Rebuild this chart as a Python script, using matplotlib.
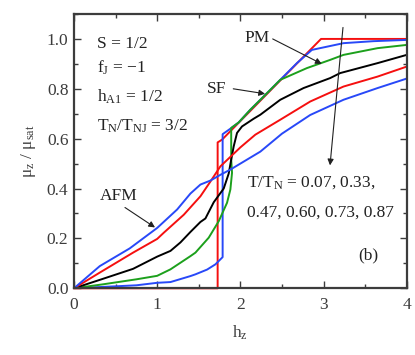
import matplotlib
matplotlib.use("Agg")
import matplotlib.pyplot as plt
from matplotlib.ticker import MultipleLocator, FormatStrFormatter

plt.rcParams['font.family'] = ['Liberation Serif', 'DejaVu Serif']
plt.rcParams['mathtext.fontset'] = 'custom'
plt.rcParams['mathtext.rm'] = 'Liberation Serif'
plt.rcParams['mathtext.default'] = 'regular'

# courbes mu_z/mu_sat en fonction de h_z, une par temperature T/T_N
h_007 = [0.0, 1.727, 1.727, 1.78, 2.97, 4.0]
m_007 = [0.0, 0.0, 0.585, 0.596, 1.0, 1.0]

h_033 = [0.0, 0.75, 1.0, 1.16, 1.40, 1.46, 1.60, 1.70, 1.787, 1.787, 1.88, 1.98, 2.12,
         2.28, 2.48, 2.68, 2.86, 3.24, 3.6, 4.0]
m_033 = [0.0, 0.012, 0.022, 0.025, 0.049, 0.056, 0.075, 0.096, 0.125, 0.618, 0.640, 0.665,
         0.716, 0.769, 0.836, 0.903, 0.956, 0.983, 0.991, 0.996]

h_047 = [0.0, 0.35, 0.75, 1.0, 1.16, 1.40, 1.46, 1.62, 1.74, 1.84, 1.88, 1.90, 1.89, 1.89,
         1.98, 2.12, 2.28, 2.48, 2.80, 3.08, 3.24, 3.65, 4.0]
m_047 = [0.0, 0.016, 0.036, 0.050, 0.076, 0.129, 0.143, 0.203, 0.269, 0.343, 0.396, 0.463,
         0.516, 0.643, 0.665, 0.716, 0.769, 0.836, 0.883, 0.916, 0.936, 0.963, 0.976]

h_060 = [0.0, 0.33, 0.71, 1.0, 1.16, 1.28, 1.40, 1.52, 1.58, 1.68, 1.80, 1.86, 1.89, 1.92,
         1.96, 2.02, 2.16, 2.24, 2.48, 2.76, 3.08, 3.2, 3.65, 4.0]
m_060 = [0.0, 0.036, 0.078, 0.127, 0.150, 0.184, 0.226, 0.266, 0.280, 0.345, 0.400, 0.460,
         0.516, 0.569, 0.623, 0.649, 0.680, 0.696, 0.756, 0.803, 0.843, 0.863, 0.903, 0.936]

h_073 = [0.0, 0.31, 0.71, 1.0, 1.08, 1.32, 1.52, 1.64, 1.76, 2.0, 2.18, 2.48, 2.84, 3.24,
         3.65, 4.0]
m_073 = [0.0, 0.063, 0.143, 0.198, 0.223, 0.295, 0.369, 0.428, 0.489, 0.565, 0.616, 0.676,
         0.749, 0.809, 0.849, 0.889]

h_087 = [0.0, 0.31, 0.67, 1.0, 1.24, 1.40, 1.52, 1.64, 1.76, 1.88, 2.24, 2.5, 2.84, 3.24,
         3.65, 4.0]
m_087 = [0.0, 0.089, 0.160, 0.242, 0.316, 0.380, 0.416, 0.432, 0.455, 0.476, 0.548, 0.620,
         0.695, 0.756, 0.803, 0.841]

RED = '#f50f0f'
BLUE = '#2848f8'
GREEN = '#1ca01c'
BLACK = '#000000'
SPINE = '#3c3c3c'

fig = plt.figure(figsize=(4.15, 3.55), dpi=100)
ax = fig.add_axes([0.1783, 0.1879, 0.8017, 0.7727])

lw = 1.4
ax.plot(h_007, m_007, color=RED, lw=lw, clip_on=False)
ax.plot(h_033, m_033, color=BLUE, lw=lw)
ax.plot(h_047, m_047, color=GREEN, lw=lw)
ax.plot(h_060, m_060, color=BLACK, lw=lw)
ax.plot(h_073, m_073, color=RED, lw=lw)
ax.plot(h_087, m_087, color=BLUE, lw=lw)

ax.set_xlim(0, 4)
ax.set_ylim(0, 1.1)
ax.xaxis.set_major_locator(MultipleLocator(1))
ax.xaxis.set_minor_locator(MultipleLocator(0.5))
ax.yaxis.set_major_locator(MultipleLocator(0.2))
ax.yaxis.set_minor_locator(MultipleLocator(0.1))
ax.xaxis.set_major_formatter(FormatStrFormatter('%d'))
ax.yaxis.set_major_formatter(FormatStrFormatter('%.1f'))

ax.tick_params(which='both', direction='in', top=True, right=True, colors=SPINE,
               labelsize=12.5, width=1.0)
ax.tick_params(which='major', length=5)
ax.tick_params(which='minor', length=3)
ax.tick_params(axis='x', pad=6)
ax.tick_params(axis='y', pad=4)
for s in ax.spines.values():
    s.set_color(SPINE)
    s.set_linewidth(1.6)

ax.set_xlabel('h$_z$', fontsize=12.5, color=SPINE, labelpad=8)
ax.set_ylabel('μ$_z$ / μ$_{sat}$', fontsize=12.5, color=SPINE, labelpad=6)

fs = 12.5
tc = '#222222'
ax.text(0.272, 0.965, 'S = 1/2', fontsize=fs, color=tc, va='baseline')
ax.text(0.272, 0.866, 'f$_J$ = \u22121', fontsize=fs, color=tc, va='baseline')
ax.text(0.272, 0.749, 'h$_{A1}$ = 1/2', fontsize=fs, color=tc, va='baseline')
ax.text(0.272, 0.633, 'T$_N$/T$_{NJ}$ = 3/2', fontsize=fs, color=tc, va='baseline')
ax.text(2.076, 0.407, 'T/T$_N$ = 0.07, 0.33,', fontsize=fs, color=tc, va='baseline')
ax.text(2.076, 0.286, '0.47, 0.60, 0.73, 0.87', fontsize=fs, color=tc, va='baseline')
ax.text(3.418, 0.133, '(b)', fontsize=fs, color=tc, va='center')

ax.text(2.206, 1.003, 'PM', fontsize=fs, color=tc, ha='center', va='center')
ax.text(1.713, 0.80, 'SF', fontsize=fs, color=tc, ha='center', va='center')
ax.text(0.533, 0.369, 'AFM', fontsize=fs, color=tc, ha='center', va='center')

# fleches
arr = dict(arrowstyle='-|>', color='#202020', lw=0.8, mutation_scale=9,
           shrinkA=0, shrinkB=0)
ax.annotate('', xy=(2.978, 0.90), xytext=(2.389, 1.0), arrowprops=arr)
ax.annotate('', xy=(2.297, 0.78), xytext=(1.915, 0.80), arrowprops=arr)
ax.annotate('', xy=(0.974, 0.244), xytext=(0.613, 0.324), arrowprops=arr)
ax.annotate('', xy=(3.078, 0.493), xytext=(3.234, 1.046), arrowprops=arr)

fig.savefig('out.png', dpi=100)
